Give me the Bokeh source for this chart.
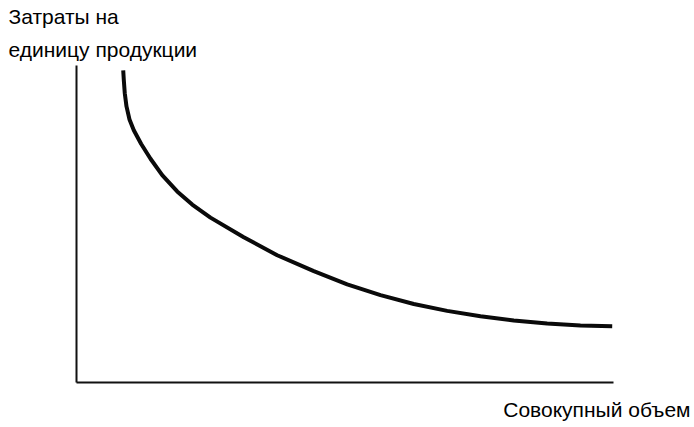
from bokeh.plotting import figure
from bokeh.models import Range1d, Title
from bokeh.embed import file_html
from bokeh.resources import INLINE

# Curve: unit cost vs total volume (axes 0..100)
volume = [8.70, 8.81, 8.99, 9.31, 9.87, 10.67, 12.05, 13.78, 15.96, 18.75, 21.55, 24.95,
          31.15, 37.37, 44.19, 50.41, 56.61, 62.81, 69.03, 75.23, 81.43, 87.65, 93.85, 99.76]
unit_cost = [98.45, 95.36, 91.24, 87.09, 82.97, 79.57, 75.23, 70.59, 65.42, 60.28, 56.13, 52.01,
             45.82, 40.15, 35.14, 30.96, 27.55, 24.77, 22.60, 20.90, 19.57, 18.58, 17.96, 17.74]

y_title_lines = ["Затраты на", "единицу продукции"]
x_title = "Совокупный объем"

FONT = "Liberation Sans"
INK = "#000000"

p = figure(width=694, height=427, output_backend="svg", toolbar_location=None,
           x_range=Range1d(0, 100), y_range=Range1d(0, 100),
           min_border_left=76, min_border_right=81, min_border_top=65, min_border_bottom=39)
p.grid.visible = False
p.outline_line_color = None
p.background_fill_color = "white"
p.border_fill_color = "white"

for ax in (p.xaxis[0], p.yaxis[0]):
    ax.axis_line_color = "#111111"
    ax.axis_line_width = 2
    ax.major_tick_line_color = None
    ax.minor_tick_line_color = None
    ax.major_label_text_font_size = "0px"
    ax.major_label_text_color = None

p.line(volume, unit_cost, line_color="#0a0a0a", line_width=4, line_join="round")

# y-axis caption: two lines above the plot, left-aligned to the page edge
p.add_layout(Title(text=y_title_lines[1], align="left", offset=-68, standoff=10,
                   text_font=FONT, text_font_size="21px", text_font_style="normal",
                   text_color=INK), "above")
p.add_layout(Title(text=y_title_lines[0], align="left", offset=-68, standoff=5,
                   text_font=FONT, text_font_size="21px", text_font_style="normal",
                   text_color=INK), "above")
# x-axis caption: right-aligned below the plot
p.add_layout(Title(text=x_title, align="right", offset=-77, standoff=14,
                   text_font=FONT, text_font_size="21px", text_font_style="normal",
                   text_color=INK), "below")

open("out.html", "w").write(file_html(p, INLINE))
